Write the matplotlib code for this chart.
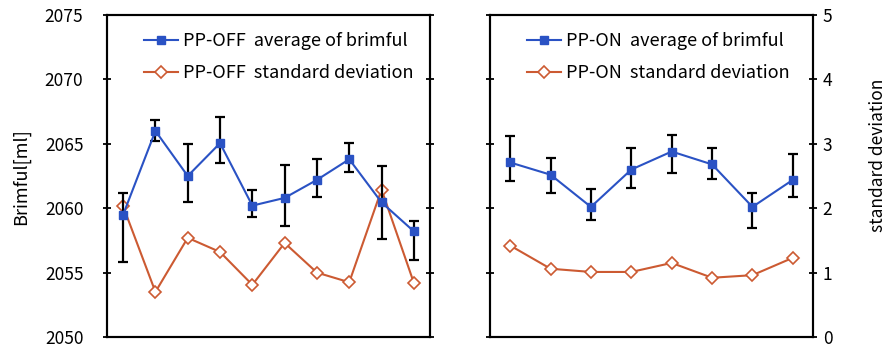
import numpy as np
import matplotlib
matplotlib.use("Agg")
import matplotlib.pyplot as plt

plt.rcParams['font.family'] = ['Noto Sans CJK JP', 'DejaVu Sans']

# PP-OFF (left panel)
off_avg = [2059.5, 2066.0, 2062.5, 2065.05, 2060.2, 2060.8, 2062.2, 2063.8, 2060.45, 2058.2]
off_top = [2061.2, 2066.85, 2065.0, 2067.05, 2061.45, 2063.35, 2063.8, 2065.05, 2063.25, 2059.0]
off_bot = [2055.85, 2065.2, 2060.5, 2063.5, 2059.3, 2058.65, 2060.85, 2062.8, 2057.6, 2055.95]
off_sd = [2.03, 0.70, 1.54, 1.32, 0.81, 1.46, 1.00, 0.85, 2.29, 0.84]

# PP-ON (right panel)
on_avg = [2063.55, 2062.6, 2060.1, 2063.0, 2064.4, 2063.4, 2060.1, 2062.2]
on_top = [2065.6, 2063.9, 2061.5, 2064.7, 2065.7, 2064.7, 2061.2, 2064.2]
on_bot = [2062.1, 2061.2, 2059.05, 2061.6, 2062.7, 2062.3, 2058.5, 2060.9]
on_sd = [1.42, 1.06, 1.01, 1.01, 1.15, 0.92, 0.96, 1.23]

brim_ticks = [2050, 2055, 2060, 2065, 2070, 2075]
sd_ticks = [0, 1, 2, 3, 4, 5]

BLUE = '#2a52c4'
ORANGE = '#cc5a32'


def draw_panel(fig, rect, avg, top, bot, sd, tag, left_labels, right_labels):
    ax = fig.add_axes(rect)
    tw = ax.twinx()
    # std dev behind the brimful series
    tw.set_zorder(ax.get_zorder() - 1)
    ax.patch.set_visible(False)

    x = np.arange(1, len(avg) + 1)
    avg = np.array(avg)
    yerr = [avg - np.array(bot), np.array(top) - avg]

    ax.errorbar(x, avg, yerr=yerr, fmt='none', ecolor='black', elinewidth=1.6,
                capsize=3.5, capthick=1.6, zorder=2)
    h1, = ax.plot(x, avg, '-', color=BLUE, lw=1.5, marker='s', markersize=6,
                  mfc=BLUE, mec=BLUE, zorder=3,
                  label=f'{tag}  average of brimful')
    h2, = tw.plot(x, sd, '-', color=ORANGE, lw=1.5, marker='D', markersize=6,
                  mfc='white', mec=ORANGE, mew=1.2,
                  label=f'{tag}  standard deviation')

    ax.set_xlim(0.5, len(avg) + 0.5)
    ax.set_ylim(2050, 2075)
    ax.set_yticks(brim_ticks)
    tw.set_ylim(0, 5)
    tw.set_yticks(sd_ticks)
    ax.set_xticks([])

    for a in (ax, tw):
        a.tick_params(axis='y', direction='inout', length=6, width=1.3,
                      labelsize=12.5)
        for s in a.spines.values():
            s.set_linewidth(1.5)
            s.set_color('black')

    ax.tick_params(axis='y', pad=14, labelleft=left_labels)
    tw.tick_params(axis='y', pad=4, labelright=right_labels)

    ax.legend(handles=[h1, h2], loc='upper left', bbox_to_anchor=(0.08, 0.98),
              frameon=False, fontsize=13, handlelength=1.9, handletextpad=0.3,
              labelspacing=0.75, borderaxespad=0.2)
    return ax, tw


fig = plt.figure(figsize=(8.87, 3.49), dpi=100)

draw_panel(fig, [0.1206, 0.0344, 0.3642, 0.9226], off_avg, off_top, off_bot,
           off_sd, 'PP-OFF', True, False)
draw_panel(fig, [0.5524, 0.0344, 0.3642, 0.9226], on_avg, on_top, on_bot,
           on_sd, 'PP-ON', False, True)

fig.text(0.024, 0.495, 'Brimful[ml]', rotation=90, ha='center', va='center',
         fontsize=13)
fig.text(0.99, 0.555, 'standard deviation', rotation=90, ha='center',
         va='center', fontsize=12.5)

fig.savefig('out.png', dpi=100)
